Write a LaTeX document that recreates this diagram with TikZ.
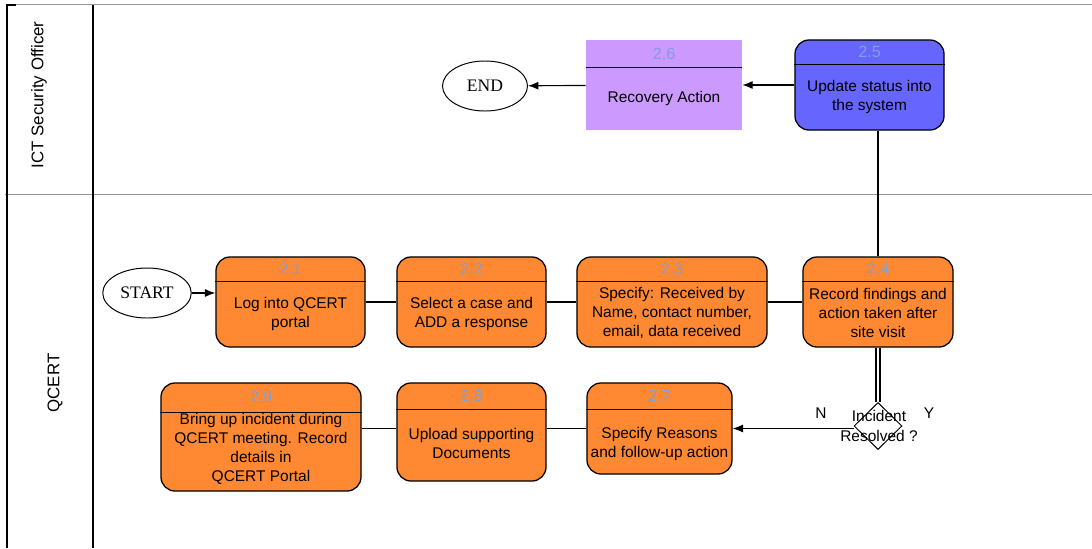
\documentclass[tikz,border=0pt]{standalone}
\usepackage{fontspec}
\setmainfont{Liberation Sans}
\newfontfamily\timesfont{Liberation Serif}
\usepackage{xcolor}
\usepackage{tikz}
\usetikzlibrary{calc}
\usetikzlibrary{arrows.meta}
\usetikzlibrary{shapes.geometric}
\tikzset{>={Latex[length=2.6mm,width=2mm]}}
\definecolor{procorange}{RGB}{255,136,51}
\definecolor{recpurple}{RGB}{204,153,255}
\definecolor{updblue}{RGB}{102,102,255}
\definecolor{numblue}{RGB}{127,160,217}
\definecolor{lanegray}{RGB}{150,150,150}
\tikzset{
	procbox/.style={draw,line width=0.9pt,rounded corners=3.5mm,fill=procorange},
	boxtext/.style={align=center,font=\fontsize{11}{13.5}\selectfont},
	num/.style={text=numblue,font=\fontsize{11.5}{13}\selectfont},
	terminal/.style={draw,ellipse,line width=0.7pt,font=\timesfont\fontsize{12.5}{14}\selectfont},
	conn/.style={line width=0.8pt}
}

\begin{document}
\begin{tikzpicture}[x=0.025cm,y=-0.025cm]
	\useasboundingbox (0,0) rectangle (1092,548);
	% swimlanes
	\draw[lanegray] (7,4)--(1092,4);
	\draw[lanegray] (5,194)--(1092,194);
	\draw[line width=1.2pt] (16,5)--(7,5)--(7,548) (93,5)--(93,548);
	\node[rotate=90,font=\fontsize{12}{14}\selectfont] (lane1) at (39,95) {ICT Security Officer};
	\node[rotate=90,font=\fontsize{12}{14}\selectfont] (lane2) at (55,383) {QCERT};
	% boxes
	\node[terminal,minimum width=2.05cm,minimum height=1.25cm] (start) at (147,293) {START};
	\node[terminal,minimum width=2.125cm,minimum height=1.25cm] (end) at (485,86) {END};
	\node[procbox,fill=updblue,minimum width=3.725cm,minimum height=2.25cm] (b25) at (869.5,85) {};
	\node[fill=recpurple,minimum width=3.9cm,minimum height=2.25cm] (b26) at (664,85) {};
	\node[procbox,minimum width=3.725cm,minimum height=2.25cm] (b21) at (290.5,302) {};
	\node[procbox,minimum width=3.725cm,minimum height=2.25cm] (b22) at (471.5,302) {};
	\node[procbox,minimum width=4.75cm,minimum height=2.25cm] (b23) at (672,302) {};
	\node[procbox,minimum width=3.75cm,minimum height=2.25cm] (b24) at (878,302) {};
	\node[procbox,minimum width=3.625cm,minimum height=2.275cm] (b27) at (659.5,428.5) {};
	\node[procbox,minimum width=3.725cm,minimum height=2.45cm] (b28) at (471.5,432) {};
	\node[procbox,minimum width=5cm,minimum height=2.7cm] (b29) at (261,437) {};
	\foreach \b/\n/\h in {b25/2.5/25,b26/2.6/28,b21/2.1/25,b22/2.2/25,b23/2.3/25,b24/2.4/25,b27/2.7/27,b28/2.8/27,b29/2.9/30}{
		\draw[line width=0.9pt] ($(\b.north west)+(0,\h)$)--($(\b.north east)+(0,\h)$);
		\node[num] (n\b) at ($(\b.north)+(0,\h/2)$) {\n};
	}
	\node[boxtext] (t25) at (869.5,97) {Update status into\\the system};
	\node[boxtext] (t26) at (664,98) {Recovery Action};
	\node[boxtext] (t21) at (290.5,314) {Log into QCERT\\portal};
	\node[boxtext] (t22) at (471.5,314) {Select a case and\\ADD a response};
	\node[boxtext] (t23) at (672,313) {Specify: Received by\\Name, contact number,\\email, data received};
	\node[boxtext] (t24) at (878,313) {Record findings and\\action taken after\\site visit};
	\node[boxtext] (t27) at (659.5,444) {Specify Reasons\\and follow-up action};
	\node[boxtext] (t28) at (471.5,443) {Upload supporting\\Documents};
	\node[boxtext] (t29) at (261,449) {Bring up incident during\\QCERT meeting. Record\\details in\\QCERT Portal};
	% decision
	\node[draw,diamond,line width=0.7pt,minimum width=1.2cm,minimum height=1.175cm,inner sep=0] (dec) at (878,426) {};
	\node[align=center,font=\fontsize{11}{14}\selectfont] (dect) at (879,426) {Incident\\Resolved ?};
	\node[font=\fontsize{11}{13}\selectfont] (no) at (821,413) {N};
	\node[font=\fontsize{11}{13}\selectfont] (yes) at (929,413) {Y};
	% connectors
	\draw[conn,->] (start)--(start -| b21.west);
	\draw[conn] (b21)--(b22) (b22)--(b23) (b23)--(b24);
	\draw[conn] (b24.north)--(b24.north |- b25.south);
	\draw[conn,->] (b25)--(b26);
	\draw[conn,->] (b26)--(end);
	\draw[conn,double,double distance=2pt] (b24)--(dec);
	\draw[conn,->] (dec.west |- b27.east)--(b27.east);
	\draw[conn] (b27.west)--(b27.west -| b28.east);
	\draw[conn] (b28.west |- b27.west)--(b29.east |- b27.west);
\end{tikzpicture}
\end{document}
